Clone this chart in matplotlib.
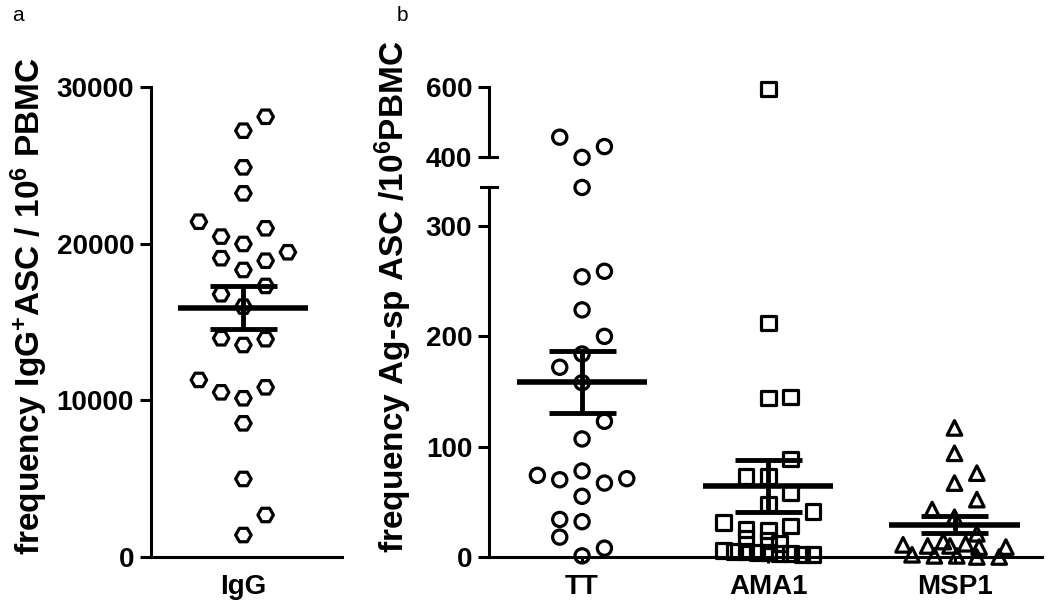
import numpy as np
import matplotlib
matplotlib.use("Agg")
import matplotlib.pyplot as plt

plt.rcParams['font.family'] = ['Liberation Sans', 'DejaVu Sans']
plt.rcParams['font.weight'] = 'bold'
plt.rcParams['mathtext.fontset'] = 'custom'
plt.rcParams['mathtext.rm'] = 'Liberation Sans:bold'
plt.rcParams['mathtext.it'] = 'Liberation Sans:bold'
plt.rcParams['mathtext.bf'] = 'Liberation Sans:bold'
plt.rcParams['mathtext.default'] = 'rm'

# panel a: IgG+ ASC per 10^6 PBMC
igg = [28100, 27210, 24870, 23210, 21400, 20980, 20450, 19980, 19450, 19070,
       18910, 18320, 17300, 16770, 15980, 13960, 13530, 13900, 11300, 10510,
       10130, 10830, 8530, 4980, 2680, 1400]
igg_slot = [1, 0, 0, 0, -2, 1, -1, 0, 2, -1,
            1, 0, 1, -1, 0, -1, 0, 1, -2, -1,
            0, 1, 0, 0, 1, 0]

# panel b: antigen-specific ASC per 10^6 PBMC
groups = ["TT", "AMA1", "MSP1"]
tt = [456, 429, 398, 335, 259, 254, 224, 200, 184, 172, 158, 123, 107, 78,
      74, 71, 70, 67, 55, 34, 32, 18, 8, 1]
tt_slot = [-1, 1, 0, 0, 1, 0, 0, 1, 0, -1, 0, 1, 0, 0,
           -2, 2, -1, 1, 0, -1, 0, -1, 1, 0]
ama1 = [594, 212, 145, 144, 89, 73, 73, 58, 48, 41, 31, 28, 25, 24,
        17, 15, 12, 6, 5, 5, 4, 4, 3, 3, 2, 2]
ama1_slot = [0, 0, 1, 0, 1, -1, 0, 1, 0, 2, -2, 1, -1, 0,
             -1, 0, 0.5, -2, -1.5, -1, -0.5, 0, 0.5, 1, 1.5, 2]
msp1 = [117, 94, 76, 67, 52, 43, 36, 21, 14, 12,
        11, 10, 10, 9, 9, 2, 1, 1, 0, 0]
msp1_slot = [0, 0, 1, 0, 1, -1, 0, 1, -0.5, 0.5,
             -2.3, -1.2, -0.2, 1.1, 2.3, -1.9, -0.9, 0.1, 1, 2]

SLOT = 0.12
LW = 2.2


def style_axis(ax):
    for s in ['top', 'right']:
        ax.spines[s].set_visible(False)
    for s in ['left', 'bottom']:
        ax.spines[s].set_linewidth(LW)
    ax.tick_params(axis='y', length=8, width=LW, labelsize=20, pad=4)
    ax.tick_params(axis='x', length=4, width=LW, labelsize=20, pad=8)


def draw_points(ax, x0, values, slots, marker, size, keep):
    v = np.array(values, dtype=float)
    x = x0 + np.array(slots) * SLOT
    m = keep(v)
    if not m.any():
        return
    ax.scatter(x[m], v[m], s=size, marker=marker, facecolors='none',
               edgecolors='black', linewidths=2.3, clip_on=False, zorder=3)


def draw_mean(ax, x0, values):
    v = np.array(values, dtype=float)
    mean = v.mean()
    sem = v.std(ddof=1) / np.sqrt(len(v))
    ax.hlines(mean, x0 - 0.35, x0 + 0.35, color='black', lw=4, zorder=4)
    ax.hlines([mean - sem, mean + sem], x0 - 0.18, x0 + 0.18,
              color='black', lw=3.5, zorder=4)
    ax.vlines(x0, mean - sem, mean + sem, color='black', lw=3.5, zorder=4)


fig = plt.figure(figsize=(10.5, 6.13), dpi=100)

# ---- panel a
ax_a = fig.add_axes([0.1435, 0.0914, 0.1819, 0.7667])
draw_points(ax_a, 0, igg, igg_slot, 'H', 125, lambda v: v >= 0)
draw_mean(ax_a, 0, igg)
ax_a.set_xlim(-0.5, 0.53)
ax_a.set_ylim(0, 30000)
ax_a.set_yticks([0, 10000, 20000, 30000])
ax_a.set_xticks([0])
ax_a.set_xticklabels(["IgG"])
style_axis(ax_a)
ax_a.tick_params(axis='x', length=0, pad=12)

# ---- panel b (broken y axis)
ax_lo = fig.add_axes([0.4657, 0.0914, 0.5267, 0.6028])
ax_hi = fig.add_axes([0.4657, 0.7444, 0.5267, 0.1137])

series = [(tt, tt_slot, 'o', 105), (ama1, ama1_slot, 's', 110),
          (msp1, msp1_slot, '^', 110)]
for i, (vals, slots, mk, sz) in enumerate(series):
    draw_points(ax_lo, i, vals, slots, mk, sz, lambda v: v <= 340)
    draw_points(ax_hi, i, vals, slots, mk, sz, lambda v: v > 340)
    draw_mean(ax_lo, i, vals)

ax_lo.set_xlim(-0.5, 2.47)
ax_lo.set_ylim(0, 335)
ax_lo.set_yticks([0, 100, 200, 300])
ax_lo.set_xticks(range(len(groups)))
ax_lo.set_xticklabels(groups)
style_axis(ax_lo)

ax_hi.set_xlim(-0.5, 2.47)
ax_hi.set_ylim(400, 600)
ax_hi.set_yticks([400, 600])
style_axis(ax_hi)
ax_hi.spines['bottom'].set_visible(False)
ax_hi.tick_params(axis='x', length=0, labelbottom=False)

# break marks
ax_lo.plot([-0.014, 0.014], [1, 1], transform=ax_lo.transAxes,
           color='black', lw=LW, clip_on=False)
ax_hi.plot([-0.014, 0.014], [0, 0], transform=ax_hi.transAxes,
           color='black', lw=LW, clip_on=False)

# labels
fig.text(0.028, 0.50, r'frequency IgG$^{+}$ASC / 10$^{6}$ PBMC',
         rotation=90, ha='center', va='center', fontsize=24, fontweight='bold')
fig.text(0.375, 0.515, r'frequency Ag-sp ASC /10$^{6}$PBMC',
         rotation=90, ha='center', va='center', fontsize=24, fontweight='bold')
fig.text(0.012, 0.99, 'a', fontsize=15, fontweight='normal', va='top')
fig.text(0.378, 0.99, 'b', fontsize=15, fontweight='normal', va='top')

fig.savefig("out.png", dpi=100)
